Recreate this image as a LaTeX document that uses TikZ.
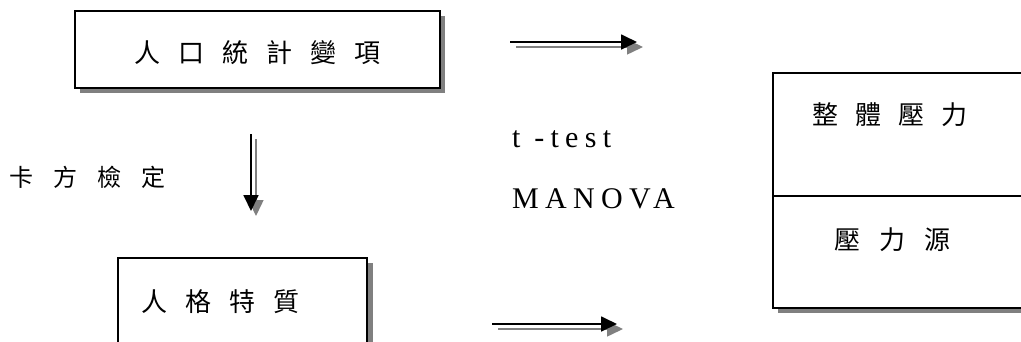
\documentclass[tikz,border=0pt]{standalone}
\usepackage{fontspec}
\usetikzlibrary{arrows.meta}
\newfontfamily\cjk{Noto Sans CJK TC}
\newfontfamily\latinserif[LetterSpace=21]{Liberation Serif}
\definecolor{shade}{HTML}{808080}
% gap between spaced-out characters
\newcommand\cgap{\hspace{18pt}}
\begin{document}
\begin{tikzpicture}[x=1pt,y=-1pt,
  boxline/.style={draw=black,line width=1.8pt,fill=white},
  shadowbox/.style={fill=shade,draw=none},
  label/.style={inner sep=0pt,anchor=west,font=\cjk\fontsize{26}{26}\selectfont},
  stat/.style={inner sep=0pt,anchor=base west,font=\latinserif\fontsize{30}{30}\selectfont},
  arrowline/.style={line width=1.8pt,-{Triangle[length=16pt,width=15pt]}},
  arrowshade/.style={arrowline,draw=shade,fill=shade,line width=1.5pt}]
\useasboundingbox (0,0) rectangle (1021,341);
\clip (0,0) rectangle (1021,341);

% boxes with drop shadows
\fill[shadowbox] (80,16) rectangle (445,93);
\draw[boxline] (75,11) rectangle (440,88);
\fill[shadowbox] (123,263) rectangle (373,365);
\draw[boxline] (118,258) rectangle (367,360);
\fill[shadowbox] (778,78) rectangle (1045,313);
\draw[boxline] (773,73) rectangle (1040,308);
\draw[line width=1.8pt] (773,196) coordinate (divl) -- (1040,196) coordinate (divr);

% box texts
\node[label] (demo) at (134,53) {人\cgap 口\cgap 統\cgap 計\cgap 變\cgap 項};
\node[label] (trait) at (141,302) {人\cgap 格\cgap 特\cgap 質};
\node[label] (total) at (812,115) {整\hspace{17pt}體\hspace{17pt}壓\hspace{17pt}力};
\node[label] (source) at (834,240) {壓\hspace{19pt}力\hspace{19pt}源};
\node[label,font=\cjk\fontsize{24}{24}\selectfont] (chi) at (9,177) {卡\hspace{20pt}方\hspace{20pt}檢\hspace{20pt}定};

% statistics labels
\node[stat] (ttest) at (512,147) {t -test};
\node[stat] (manova) at (512,208) {MANOVA};

% arrow end points
\coordinate (a1s) at (510,42);  \coordinate (a1e) at (637,42);
\coordinate (a2s) at (492,324); \coordinate (a2e) at (617,324);
\coordinate (a3s) at (251,134); \coordinate (a3e) at (251,211);

% arrows: grey shadow first, black on top
\draw[arrowshade] ([shift={(6,5)}]a1s) -- ([shift={(6,5)}]a1e);
\draw[arrowline] (a1s) -- (a1e);
\draw[arrowshade] ([shift={(6,5)}]a2s) -- ([shift={(6,5)}]a2e);
\draw[arrowline] (a2s) -- (a2e);
\draw[arrowshade] ([shift={(5,5)}]a3s) -- ([shift={(5,5)}]a3e);
\draw[arrowline] (a3s) -- (a3e);
\end{tikzpicture}
\end{document}
